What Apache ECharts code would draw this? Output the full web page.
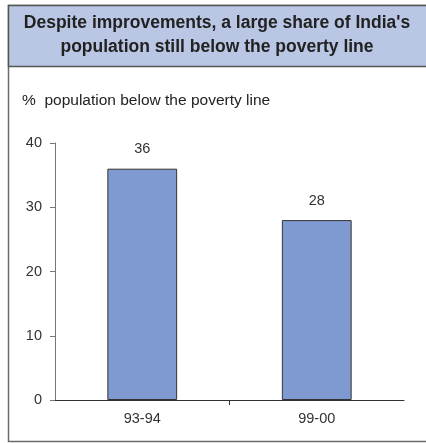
<!DOCTYPE html>
<html><head><meta charset="utf-8">
<script src="https://cdn.jsdelivr.net/npm/echarts@6/dist/echarts.min.js"></script>
<style>html,body{margin:0;padding:0;background:#fff}#c{width:426px;height:443px}</style>
</head><body><div id="c"></div>
<script>
const categories = ['93-94', '99-00'];
const values = [36, 28];
const yTicks = [0, 10, 20, 30, 40];
const titleLines = ["Despite improvements, a large share of India's", 'population still below the poverty line'];
const subtitle = '%  population below the poverty line';
const FF = 'Arial, "Liberation Sans", sans-serif';

const chart = echarts.init(document.getElementById('c'), null, {renderer: 'canvas'});
chart.setOption({
  animation: false,
  backgroundColor: '#fff',
  graphic: [
    {type: 'rect', shape: {x: 8.5, y: 5.5, width: 430, height: 436}, style: {fill: '#fff', stroke: '#6b6b6b', lineWidth: 1.5}, z: -10},
    {type: 'rect', shape: {x: 8.5, y: 5.5, width: 430, height: 61}, style: {fill: '#b9c6e4', stroke: '#555', lineWidth: 1.5}, z: -5},
    {type: 'text', x: 217, y: 23, style: {text: titleLines[0], fill: '#222', font: 'bold 17.5px ' + FF, align: 'center', verticalAlign: 'middle'}},
    {type: 'text', x: 217, y: 47, style: {text: titleLines[1], fill: '#222', font: 'bold 17.5px ' + FF, align: 'center', verticalAlign: 'middle'}},
    {type: 'text', x: 22, y: 101, style: {text: subtitle, fill: '#222', font: '15.5px ' + FF, align: 'left', verticalAlign: 'middle'}}
  ],
  grid: {left: 55, right: 22, top: 143, bottom: 43},
  xAxis: [{
    type: 'category', data: categories,
    axisLine: {lineStyle: {color: '#333', width: 1}},
    axisTick: {show: false},
    axisLabel: {color: '#333', fontSize: 14.5, fontFamily: FF, margin: 11}
  }, {
    type: 'value', position: 'bottom', min: 0, max: categories.length, 
    axisLine: {show: false},
    axisTick: {show: true, customValues: [1], length: 5, lineStyle: {color: '#333'}},
    axisLabel: {show: false},
    splitLine: {show: false}
  }],
  yAxis: {
    type: 'value', min: yTicks[0], max: yTicks[yTicks.length - 1], interval: 10,
    axisLine: {show: true, lineStyle: {color: '#777'}},
    axisTick: {show: true, length: 5, lineStyle: {color: '#777'}},
    axisLabel: {color: '#333', fontSize: 14.5, fontFamily: FF, margin: 13},
    splitLine: {show: false}
  },
  series: [{
    type: 'bar', data: values, barWidth: '40%', xAxisIndex: 0,
    itemStyle: {color: '#7f9ad0', borderColor: '#333', borderWidth: 1},
    label: {show: true, position: 'top', distance: 12, color: '#333', fontSize: 14.5, fontFamily: FF}
  }]
});
</script></body></html>
